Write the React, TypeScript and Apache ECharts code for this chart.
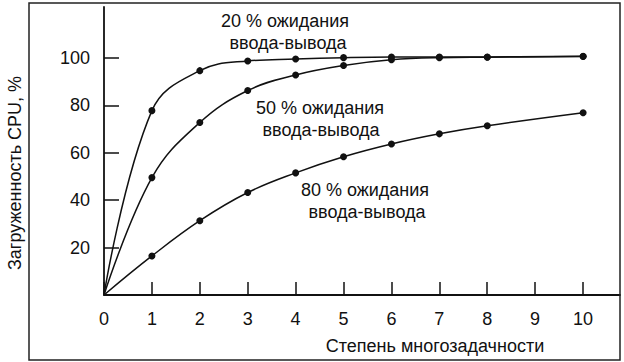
import React, { useEffect, useRef } from "react";
import * as echarts from "echarts";

const xTicks = [0, 1, 2, 3, 4, 5, 6, 7, 8, 9, 10];
const yTicks = [20, 40, 60, 80, 100];

const nValues = [0, 1, 2, 3, 4, 5, 6, 7, 8, 10];
const io20 = [0, 77.9, 94.8, 98.9, 99.7, 100.3, 100.6, 100.6, 100.6, 100.9];
const io50 = [0, 49.6, 72.9, 86.4, 93.0, 97.0, 99.4, 100.3, 100.5, 100.8];
const io80 = [0, 16.5, 31.4, 43.3, 51.6, 58.4, 63.8, 68.1, 71.5, 77.0];

const labels20 = ["20 % ожидания", "ввода-вывода"];
const labels50 = ["50 % ожидания", "ввода-вывода"];
const labels80 = ["80 % ожидания", "ввода-вывода"];
const xName = "Степень многозадачности";
const yName = "Загруженность CPU, %";

const FONT = "'Liberation Sans', Arial, Helvetica, sans-serif";
const INK = "#111";

export default function App() {
  const ref = useRef<HTMLDivElement>(null);

  useEffect(() => {
    if (!ref.current) return;
    const chart = echarts.init(ref.current, undefined, { renderer: "svg" });

    const mk = (name: string, vals: number[]) => ({
      name,
      type: "line",
      xAxisIndex: 0,
      yAxisIndex: 0,
      data: nValues.map((n, i) => [n, vals[i]]),
      smooth: 0.4,
      symbol: (v: number[]) => (v[0] === 0 ? "none" : "circle"),
      symbolSize: 7,
      showSymbol: true,
      itemStyle: { color: INK },
      lineStyle: { color: INK, width: 1.5 },
      clip: false,
      z: 5,
    });

    const textEl = (t: string, x: number, y: number, rot = 0) => ({
      type: "text",
      x,
      y,
      rotation: rot,
      style: {
        text: t,
        fill: INK,
        font: `18px ${FONT}`,
        align: "center",
        verticalAlign: "middle",
      },
      z: 10,
    });

    chart.setOption({
      animation: false,
      backgroundColor: "#fff",
      grid: [
        { left: 104, right: 4, top: 7, bottom: 67 },
        { left: 104, right: 41, top: 58, bottom: 67 },
      ],
      xAxis: [
        {
          type: "value",
          gridIndex: 0,
          min: 0,
          max: 10.77,
          axisLine: { show: true, lineStyle: { color: INK, width: 1.8 } },
          axisTick: { show: false },
          axisLabel: { show: false },
          splitLine: { show: false },
        },
        {
          type: "value",
          gridIndex: 1,
          min: xTicks[0],
          max: xTicks[xTicks.length - 1],
          interval: 1,
          axisLine: { show: false },
          axisTick: { show: true, inside: true, length: 13, lineStyle: { color: INK, width: 1.5 } },
          axisLabel: { show: true, margin: 15, color: INK, fontSize: 18, fontFamily: FONT },
          splitLine: { show: false },
        },
      ],
      yAxis: [
        {
          type: "value",
          gridIndex: 0,
          min: 0,
          max: 121.7,
          axisLine: { show: true, lineStyle: { color: INK, width: 1.8 } },
          axisTick: { show: false },
          axisLabel: { show: false },
          splitLine: { show: false },
        },
        {
          type: "value",
          gridIndex: 1,
          min: 0,
          max: yTicks[yTicks.length - 1],
          interval: 20,
          axisLine: { show: false },
          axisTick: { show: true, inside: true, length: 15, lineStyle: { color: INK, width: 1.5 } },
          axisLabel: {
            show: true,
            margin: 14,
            color: INK,
            fontSize: 18,
            fontFamily: FONT,
            formatter: (v: number) => (yTicks.includes(v) ? String(v) : ""),
          },
          splitLine: { show: false },
        },
      ],
      series: [mk("20%", io20), mk("50%", io50), mk("80%", io80)],
      graphic: [
        {
          type: "rect",
          shape: { x: 29, y: 3, width: 591, height: 357 },
          style: { fill: "none", stroke: "#222", lineWidth: 1.5 },
          z: 1,
        },
        textEl(labels20[0], 285, 21),
        textEl(labels20[1], 288, 43),
        textEl(labels50[0], 320, 108),
        textEl(labels50[1], 321, 130),
        textEl(labels80[0], 365, 190),
        textEl(labels80[1], 367, 212),
        textEl(xName, 435, 346),
        textEl(yName, 15, 173, Math.PI / 2),
      ],
    });

    return () => chart.dispose();
  }, []);

  return (
    <div
      ref={ref}
      style={{ position: "fixed", left: 0, top: 0, width: 624, height: 362 }}
    />
  );
}
